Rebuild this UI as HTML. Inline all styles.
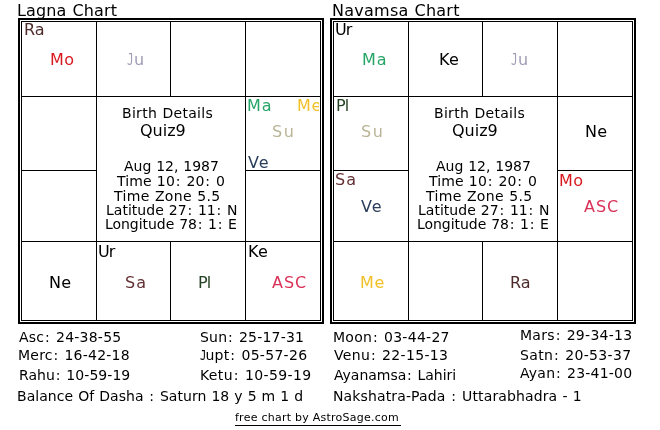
<!DOCTYPE html>
<html><head><meta charset="utf-8"><title>Chart</title>
<style>
html,body{margin:0;padding:0;background:#fff}
body{width:660px;height:430px;position:relative;overflow:hidden;font-family:"DejaVu Sans","Liberation Sans",sans-serif}
.b{position:absolute;background:#000}
.t{position:absolute;white-space:pre;line-height:normal;will-change:transform}
.c{margin:0 .8px}
.j{display:inline-block;font-family:'DejaVu Sans Mono',monospace;transform-origin:0 0;letter-spacing:0}
</style></head><body>
<div class="b" style="left:18px;top:18px;width:306px;height:2px"></div>
<div class="b" style="left:18px;top:322px;width:306px;height:2px"></div>
<div class="b" style="left:18px;top:18px;width:2px;height:306px"></div>
<div class="b" style="left:322px;top:18px;width:2px;height:306px"></div>
<div class="b" style="left:21px;top:21px;width:300px;height:1px"></div>
<div class="b" style="left:21px;top:320px;width:300px;height:1px"></div>
<div class="b" style="left:21px;top:21px;width:1px;height:300px"></div>
<div class="b" style="left:320px;top:21px;width:1px;height:300px"></div>
<div class="b" style="left:96px;top:21px;width:1px;height:300px"></div>
<div class="b" style="left:245px;top:21px;width:1px;height:300px"></div>
<div class="b" style="left:170px;top:21px;width:1px;height:76px"></div>
<div class="b" style="left:170px;top:241px;width:1px;height:80px"></div>
<div class="b" style="left:21px;top:96px;width:300px;height:1px"></div>
<div class="b" style="left:21px;top:241px;width:300px;height:1px"></div>
<div class="b" style="left:21px;top:170px;width:76px;height:1px"></div>
<div class="b" style="left:245px;top:170px;width:76px;height:1px"></div>
<div class="b" style="left:330px;top:18px;width:306px;height:2px"></div>
<div class="b" style="left:330px;top:322px;width:306px;height:2px"></div>
<div class="b" style="left:330px;top:18px;width:2px;height:306px"></div>
<div class="b" style="left:634px;top:18px;width:2px;height:306px"></div>
<div class="b" style="left:333px;top:21px;width:300px;height:1px"></div>
<div class="b" style="left:333px;top:320px;width:300px;height:1px"></div>
<div class="b" style="left:333px;top:21px;width:1px;height:300px"></div>
<div class="b" style="left:632px;top:21px;width:1px;height:300px"></div>
<div class="b" style="left:408px;top:21px;width:1px;height:300px"></div>
<div class="b" style="left:557px;top:21px;width:1px;height:300px"></div>
<div class="b" style="left:482px;top:21px;width:1px;height:76px"></div>
<div class="b" style="left:482px;top:241px;width:1px;height:80px"></div>
<div class="b" style="left:333px;top:96px;width:300px;height:1px"></div>
<div class="b" style="left:333px;top:241px;width:300px;height:1px"></div>
<div class="b" style="left:333px;top:170px;width:76px;height:1px"></div>
<div class="b" style="left:557px;top:170px;width:76px;height:1px"></div>
<div class="t" style="left:17px;top:1px;font-size:16px;color:#000;letter-spacing:0.15px;word-spacing:.6px">Lagna Chart</div>
<div class="t" style="left:332px;top:1px;font-size:16px;color:#000;letter-spacing:0.25px;word-spacing:.6px">Navamsa Chart</div>
<div class="t" style="left:24px;top:20px;font-size:16px;color:#4e2b2b">Ra</div>
<div class="t" style="left:50px;top:50px;font-size:16px;color:#d81a20;letter-spacing:0.4px">Mo</div>
<div class="t" style="left:126.6px;top:50px;font-size:16px;color:#a09cb6"><span class="j" style="width:7.1px;transform:scaleX(.68)">J</span>u</div>
<div class="t" style="left:247px;top:96px;font-size:16px;color:#26a566;letter-spacing:1px">Ma</div>
<div class="t" style="left:297px;top:96px;font-size:16px;color:#f2c02a;letter-spacing:0.6px;width:22px;overflow:hidden">Me</div>
<div class="t" style="left:272px;top:122px;font-size:16px;color:#bab497;letter-spacing:1.5px">Su</div>
<div class="t" style="left:248px;top:153px;font-size:16px;color:#293c5a;letter-spacing:1px">Ve</div>
<div class="t" style="left:49px;top:273px;font-size:16px;color:#000;letter-spacing:0.3px">Ne</div>
<div class="t" style="left:98px;top:242px;font-size:16px;color:#000;letter-spacing:-1px">Ur</div>
<div class="t" style="left:125px;top:273px;font-size:16px;color:#633034;letter-spacing:1px">Sa</div>
<div class="t" style="left:198px;top:273px;font-size:16px;color:#254225;letter-spacing:-0.8px">Pl</div>
<div class="t" style="left:248px;top:242px;font-size:16px;color:#000;letter-spacing:0.4px">Ke</div>
<div class="t" style="left:272px;top:273px;font-size:16px;color:#da3158;letter-spacing:1px">ASC</div>
<div class="t" style="left:335px;top:20px;font-size:16px;color:#000;letter-spacing:-1px">Ur</div>
<div class="t" style="left:362px;top:50px;font-size:16px;color:#26a566;letter-spacing:1px">Ma</div>
<div class="t" style="left:439px;top:50px;font-size:16px;color:#000;letter-spacing:0.4px">Ke</div>
<div class="t" style="left:510.6px;top:50px;font-size:16px;color:#a09cb6"><span class="j" style="width:7.1px;transform:scaleX(.68)">J</span>u</div>
<div class="t" style="left:336px;top:96px;font-size:16px;color:#254225;letter-spacing:-0.8px">Pl</div>
<div class="t" style="left:361px;top:122px;font-size:16px;color:#bab497;letter-spacing:1.5px">Su</div>
<div class="t" style="left:585px;top:122px;font-size:16px;color:#000;letter-spacing:0.3px">Ne</div>
<div class="t" style="left:335px;top:170px;font-size:16px;color:#633034;letter-spacing:1px">Sa</div>
<div class="t" style="left:361px;top:197px;font-size:16px;color:#293c5a;letter-spacing:1px">Ve</div>
<div class="t" style="left:559px;top:171px;font-size:16px;color:#d81a20;letter-spacing:0.4px">Mo</div>
<div class="t" style="left:584px;top:197px;font-size:16px;color:#da3158;letter-spacing:1px">ASC</div>
<div class="t" style="left:360px;top:273px;font-size:16px;color:#f2c02a;letter-spacing:0.6px">Me</div>
<div class="t" style="left:510px;top:273px;font-size:16px;color:#4e2b2b">Ra</div>
<div class="t" id="s0" style="left:121.59px;top:105px;font-size:14px;color:#000;letter-spacing:0.31px;word-spacing:.5px">Birth Details</div>
<div class="t" id="s1" style="left:123.72px;top:158px;font-size:14px;color:#000;letter-spacing:-0.027px;word-spacing:.5px">Aug 12, 1987</div>
<div class="t" id="s2" style="left:117.2px;top:173px;font-size:14px;color:#000;letter-spacing:0.127px;word-spacing:.5px">Time 10<span class="c">:</span> 20<span class="c">:</span> 0</div>
<div class="t" id="s3" style="left:114.3px;top:188px;font-size:14px;color:#000;letter-spacing:0.337px;word-spacing:.5px">Time Zone 5.5</div>
<div class="t" id="s4" style="left:105.59px;top:202px;font-size:14px;color:#000;letter-spacing:0.02px;word-spacing:.5px">Latitude 27<span class="c">:</span> 11<span class="c">:</span> N</div>
<div class="t" id="s5" style="left:104.99px;top:216px;font-size:14px;color:#000;letter-spacing:-0.044px;word-spacing:.5px">Longitude 78<span class="c">:</span> 1<span class="c">:</span> E</div>
<div class="t" id="s6" style="left:433.59px;top:105px;font-size:14px;color:#000;letter-spacing:0.31px;word-spacing:.5px">Birth Details</div>
<div class="t" id="s7" style="left:435.72px;top:158px;font-size:14px;color:#000;letter-spacing:-0.027px;word-spacing:.5px">Aug 12, 1987</div>
<div class="t" id="s8" style="left:429.2px;top:173px;font-size:14px;color:#000;letter-spacing:0.127px;word-spacing:.5px">Time 10<span class="c">:</span> 20<span class="c">:</span> 0</div>
<div class="t" id="s9" style="left:426.3px;top:188px;font-size:14px;color:#000;letter-spacing:0.337px;word-spacing:.5px">Time Zone 5.5</div>
<div class="t" id="s10" style="left:417.59px;top:202px;font-size:14px;color:#000;letter-spacing:0.02px;word-spacing:.5px">Latitude 27<span class="c">:</span> 11<span class="c">:</span> N</div>
<div class="t" id="s11" style="left:416.99px;top:216px;font-size:14px;color:#000;letter-spacing:-0.044px;word-spacing:.5px">Longitude 78<span class="c">:</span> 1<span class="c">:</span> E</div>
<div class="t" id="s12" style="left:18.62px;top:329px;font-size:14px;color:#000;letter-spacing:0.235px;word-spacing:.5px">Asc<span class="c">:</span> 24-38-55</div>
<div class="t" id="s13" style="left:17.89px;top:347px;font-size:14px;color:#000;letter-spacing:0.225px;word-spacing:.5px">Merc<span class="c">:</span> 16-42-18</div>
<div class="t" id="s14" style="left:18.59px;top:367px;font-size:14px;color:#000;letter-spacing:0.055px;word-spacing:.5px">Rahu<span class="c">:</span> 10-59-19</div>
<div class="t" id="s15" style="left:17.09px;top:388px;font-size:14px;color:#000;letter-spacing:0.047px;word-spacing:.5px">Balance Of Dasha <span class="c">:</span> Saturn 18 y 5 m 1 d</div>
<div class="t" id="s16" style="left:199.62px;top:329px;font-size:14px;color:#000;letter-spacing:0.21px;word-spacing:.5px">Sun<span class="c">:</span> 25-17-31</div>
<div class="t" id="s17" style="left:200.09px;top:367px;font-size:14px;color:#000;letter-spacing:0.373px;word-spacing:.5px">Ketu<span class="c">:</span> 10-59-19</div>
<div class="t" id="s18" style="left:333.19px;top:329px;font-size:14px;color:#000;letter-spacing:0.275px;word-spacing:.5px">Moon<span class="c">:</span> 03-44-27</div>
<div class="t" id="s19" style="left:333.62px;top:347px;font-size:14px;color:#000;letter-spacing:0.327px;word-spacing:.5px">Venu<span class="c">:</span> 22-15-13</div>
<div class="t" id="s20" style="left:333.62px;top:367px;font-size:14px;color:#000;letter-spacing:-0.023px;word-spacing:.5px">Ayanamsa<span class="c">:</span> Lahiri</div>
<div class="t" id="s21" style="left:520.09px;top:327px;font-size:14px;color:#000;letter-spacing:0.283px;word-spacing:.5px">Mars<span class="c">:</span> 29-34-13</div>
<div class="t" id="s22" style="left:519.52px;top:347px;font-size:14px;color:#000;letter-spacing:0.343px;word-spacing:.5px">Satn<span class="c">:</span> 20-53-37</div>
<div class="t" id="s23" style="left:519.92px;top:365px;font-size:14px;color:#000;letter-spacing:0.229px;word-spacing:.5px">Ayan<span class="c">:</span> 23-41-00</div>
<div class="t" id="s24" style="left:332.99px;top:388px;font-size:14px;color:#000;letter-spacing:0.129px;word-spacing:.5px">Nakshatra-Pada <span class="c">:</span> Uttarabhadra - 1</div>
<div class="t" style="left:140px;top:121px;font-size:16px;color:#000">Quiz9</div>
<div class="t" style="left:452px;top:121px;font-size:16px;color:#000">Quiz9</div>
<div class="t" style="left:199.3px;top:347px;font-size:14px;color:#000;letter-spacing:0.3px;word-spacing:.5px"><span class="j" style="width:6.4px;transform:scaleX(.75);position:relative;left:.8px">J</span>upt<span class="c">:</span> 05-57-26</div>
<div class="t f" style="left:235px;top:411px;font-size:11px;letter-spacing:0.25px">free chart by AstroSage.com</div><div class="b" style="left:235px;top:425px;width:166px;height:1px"></div>
</body></html>
